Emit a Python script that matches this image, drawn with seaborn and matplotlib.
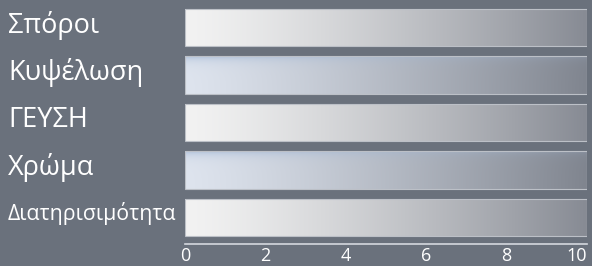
import numpy as np
import pandas as pd
import matplotlib
matplotlib.use('Agg')
import matplotlib.pyplot as plt
import seaborn as sns

# 数据
categories = ['Σπόροι', 'Κυψέλωση', 'ΓΕΥΣΗ', 'Χρώμα', 'Διατηρισιμότητα']
values = [10, 10, 10, 10, 10]
label_sizes = [19.5, 19.5, 19.5, 19.5, 15.3]
xticks = [0, 2, 4, 6, 8, 10]

bg = '#6a717c'
sns.set_style('white')
plt.rcParams['font.family'] = ['Open Sans', 'DejaVu Sans']

df = pd.DataFrame({'cat': categories, 'val': values})

fig = plt.figure(figsize=(5.92, 2.66), dpi=100, facecolor=bg)
ax = fig.add_axes([185 / 592, 1 - 244 / 266, 402 / 592, 240 / 266])
ax.set_facecolor(bg)

sns.barplot(data=df, x='val', y='cat', orient='h', width=0.78,
            color='#cccccc', edgecolor='#bcc0c7', linewidth=0.8, ax=ax)

# 渐变填充
nx, ny = 200, 40
gx = np.linspace(0, 1, nx)
gy = np.linspace(0, 1, ny)[:, None]
for i, p in enumerate(ax.patches):
    x0, y0 = p.get_x(), p.get_y()
    w, h = p.get_width(), p.get_height()
    img = np.zeros((ny, nx, 3))
    if i % 2 == 0:
        left = np.array([242, 242, 242]) / 255
        right = np.array([135, 139, 148]) / 255
        img[:] = left + (right - left) * (gx[:, None] ** 1.3)
    else:
        left = np.array([222, 228, 238]) / 255
        right = np.array([128, 133, 143]) / 255
        img[:] = left + (right - left) * (gx[:, None] ** 1.2)
        blue = np.array([160, 182, 212]) / 255
        fade = np.exp(-gy / 0.12)[:, :, None] * 0.7 * (1 - gx[None, :, None] * 0.7)
        img = img * (1 - fade) + blue * fade
    p.set_facecolor('none')
    p.set_zorder(3)
    im = ax.imshow(img, extent=[x0, x0 + w, y0 + h, y0], aspect='auto',
                   interpolation='bilinear', zorder=1)
    im.set_clip_path(p)

ax.set_xlim(0, 10)
ax.set_ylim(4.558, -0.495)
ax.set_xticks(xticks)
ax.set_xticklabels([str(t) for t in xticks], color='white', fontsize=13)
ax.get_xticklabels()[-1].set_ha('right')
ax.tick_params(axis='x', length=0, pad=2)
ax.set_yticks([])
ax.set_xlabel('')
ax.set_ylabel('')
for s in ['top', 'right', 'left']:
    ax.spines[s].set_visible(False)
ax.spines['bottom'].set_color('#d4d8de')
ax.spines['bottom'].set_linewidth(1.2)

px = 4 / 190  # 每像素对应的数据单位
offsets = [5, 4.5, 4.5, 4.5, 3]
for i, (c, fs, off) in enumerate(zip(categories, label_sizes, offsets)):
    ax.text(-177 / 402 * 10, i + off * px, c, ha='left', va='baseline',
            color='white', fontsize=fs, clip_on=False)

fig.savefig('out.png', dpi=100, facecolor=bg)
